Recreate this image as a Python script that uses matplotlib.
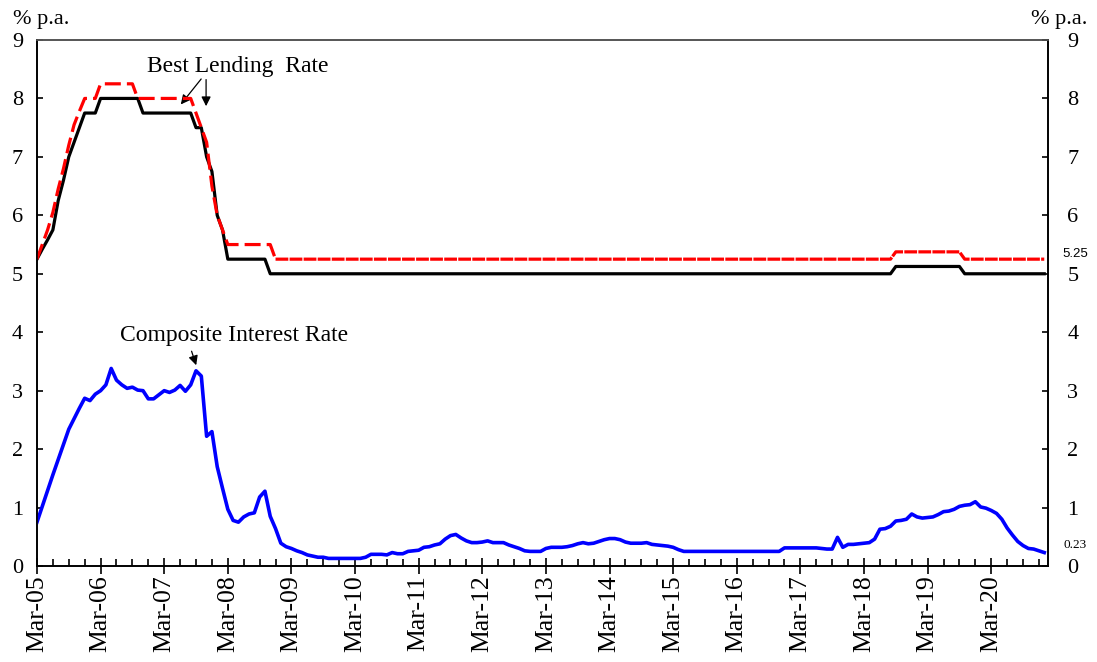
import numpy as np
import matplotlib
matplotlib.use("Agg")
from matplotlib import pyplot as plt

# monthly data, Mar-05 (index 0) .. Jan-21 (index 190)
blr_low = ([5.25, 5.42, 5.58, 5.75, 6.25, 6.6, 7.0, 7.25, 7.5, 7.75, 7.75, 7.75]
           + [8.0] * 8
           + [7.75] * 10
           + [7.5, 7.5, 7.0, 6.75, 6.0, 5.75]
           + [5.25] * 8
           + [5.0] * 118
           + [5.125] * 13
           + [5.0] * 16)

blr_high = ([5.25, 5.5, 5.75, 6.05, 6.45, 6.8, 7.2, 7.55, 7.78, 8.0, 8.0, 8.0]
            + [8.25] * 7
            + [8.0] * 11
            + [7.75, 7.5, 7.25, 6.5, 6.0, 5.75]
            + [5.5] * 9
            + [5.25] * 117
            + [5.375] * 13
            + [5.25] * 16)

composite = [
    0.75, 1.02, 1.29, 1.56, 1.82, 2.08, 2.34, 2.52, 2.70, 2.87,
    2.83, 2.94, 3.00, 3.10, 3.38, 3.18, 3.10, 3.04, 3.06, 3.01,
    3.00, 2.86, 2.86, 2.93, 3.00, 2.97, 3.01, 3.09, 2.99, 3.10,
    3.34, 3.25, 2.22, 2.30, 1.70, 1.33, 0.97, 0.78, 0.75, 0.84,
    0.89, 0.91, 1.18, 1.28, 0.85, 0.64, 0.39, 0.33, 0.30, 0.26,
    0.23, 0.19, 0.17, 0.15, 0.15, 0.13, 0.13, 0.13, 0.13, 0.13,
    0.13, 0.13, 0.15, 0.20, 0.20, 0.20, 0.19, 0.23, 0.21, 0.21,
    0.25, 0.26, 0.27, 0.32, 0.33, 0.36, 0.38, 0.46, 0.52, 0.54,
    0.48, 0.43, 0.40, 0.40, 0.41, 0.43, 0.40, 0.40, 0.40, 0.36,
    0.33, 0.30, 0.26, 0.25, 0.25, 0.25, 0.30, 0.32, 0.32, 0.32,
    0.33, 0.35, 0.38, 0.40, 0.38, 0.39, 0.42, 0.45, 0.47, 0.47,
    0.45, 0.41, 0.39, 0.39, 0.39, 0.40, 0.37, 0.36, 0.35, 0.34,
    0.32, 0.28, 0.25, 0.25, 0.25, 0.25, 0.25, 0.25, 0.25, 0.25,
    0.25, 0.25, 0.25, 0.25, 0.25, 0.25, 0.25, 0.25, 0.25, 0.25,
    0.25, 0.31, 0.31, 0.31, 0.31, 0.31, 0.31, 0.31, 0.30, 0.29,
    0.29, 0.49, 0.32, 0.37, 0.37, 0.38, 0.39, 0.40, 0.46, 0.63,
    0.64, 0.68, 0.77, 0.78, 0.80, 0.89, 0.84, 0.82, 0.83, 0.84,
    0.88, 0.93, 0.94, 0.97, 1.02, 1.04, 1.05, 1.10, 1.01, 0.99,
    0.95, 0.90, 0.80, 0.65, 0.53, 0.42, 0.35, 0.30, 0.29, 0.26,
    0.23,
]

year_labels = ["Mar-%02d" % y for y in range(5, 21)]

plt.rcParams['font.family'] = ['Liberation Serif', 'DejaVu Serif']

months = np.arange(len(composite))

fig = plt.figure(figsize=(10.97, 6.62), dpi=100)
ax = fig.add_axes([0.0337, 0.145, 0.9216, 0.7946])

ax.plot(months, blr_low, color="black", lw=2.3, zorder=3)
# red dashes look long/open on the early part and nearly solid on the long flat part
ax.plot(months[:46], blr_high[:46], color="#ff0000", lw=2.3, dashes=(5, 1.9), zorder=4)
ax.plot(months[45:], blr_high[45:], color="#ff0000", lw=2.3, dashes=(4, 0.4), zorder=4)
ax.plot(months, composite, color="#0000ff", lw=2.6, zorder=3)

ax.set_xlim(0, 190.7)
ax.set_ylim(0, 9)

ax.set_xticks(np.arange(0, 181, 12))
ax.set_xticklabels(year_labels, rotation=90, fontsize=18.5)
ax.set_xticks(np.arange(0, 190, 3), minor=True)
ax.tick_params(axis="x", which="major", direction="inout", length=11, width=1.2, pad=1)
ax.tick_params(axis="x", which="minor", direction="in", length=5, width=1.2)

ax.set_yticks(range(0, 10))
ax.tick_params(axis="y", direction="in", length=4, width=1.2, labelsize=16, pad=10)

ax2 = ax.twinx()
ax2.set_ylim(0, 9)
ax2.set_yticks(range(0, 10))
ax2.tick_params(axis="y", direction="in", length=4, width=1.2, labelsize=16, pad=14)

for a in (ax, ax2):
    for s in a.spines.values():
        s.set_linewidth(1.2)
    a.spines["top"].set_color("#555555")

# unit labels
ax.text(-0.024, 1.021, "% p.a.", transform=ax.transAxes, ha="left", va="bottom", fontsize=16)
ax.text(1.039, 1.021, "% p.a.", transform=ax.transAxes, ha="right", va="bottom", fontsize=16)

# end-value labels
ax.text(195.8, blr_high[-1] + 0.08, "%.2f" % blr_high[-1], ha="center", va="center",
        fontsize=9.5, family="Liberation Sans", clip_on=False)
ax.text(195.8, composite[-1] + 0.13, "%.2f" % composite[-1], ha="center", va="center",
        fontsize=9.5, clip_on=False)

# annotations
ax.text(37.9, 8.55, "Best Lending  Rate", ha="center", va="center", fontsize=17)
ax.annotate("", xy=(26.8, 7.86), xytext=(31.3, 8.37),
            arrowprops=dict(arrowstyle="-|>", color="black", lw=0.9, mutation_scale=14))
ax.annotate("", xy=(31.9, 7.82), xytext=(31.9, 8.37),
            arrowprops=dict(arrowstyle="-|>", color="black", lw=0.9, mutation_scale=14))

ax.text(37.1, 3.94, "Composite Interest Rate", ha="center", va="center", fontsize=17)
ax.annotate("", xy=(30.2, 3.39), xytext=(29.0, 3.72),
            arrowprops=dict(arrowstyle="-|>", color="black", lw=0.9, mutation_scale=14))

fig.savefig("out.png", dpi=100)
